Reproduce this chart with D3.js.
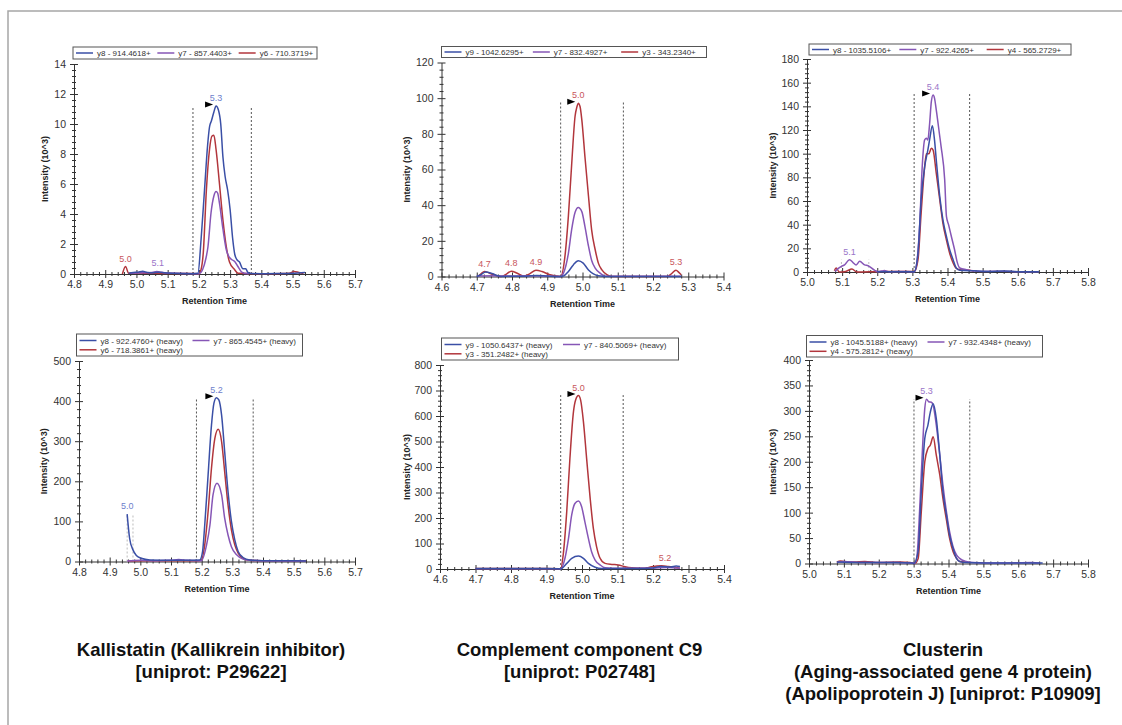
<!DOCTYPE html>
<html>
<head>
<meta charset="utf-8">
<script src="https://cdn.jsdelivr.net/npm/d3@7"></script>
<style>
  body { margin: 0; background: #fff; }
  svg { display: block; font-family: "Liberation Sans", Arial, sans-serif; }
</style>
</head>
<body>
<svg id="chart" width="1122" height="725"></svg>
<script>
// ---- DATA: [retention time, intensity (10^3)] ----
// Kallistatin, light
const kallLightY8 = [[4.975,0.05],[4.99,0.1],[5.005,0.12],[5.02,0.18],[5.035,0.1],[5.05,0.08],[5.07,0.12],[5.09,0.08],[5.12,0.05],[5.15,0.03],[5.18,0.02],[5.197,0.05],[5.207,2.3],[5.218,5.6],[5.228,8.6],[5.234,9.8],[5.24,10.2],[5.248,10.8],[5.255,11.2],[5.263,10.9],[5.27,10.0],[5.277,7.8],[5.284,6.5],[5.292,5.6],[5.3,4.3],[5.308,2.4],[5.315,1.3],[5.322,0.95],[5.33,0.8],[5.341,0.35],[5.35,0.35],[5.357,0.1],[5.37,0.03],[5.4,0.02],[5.45,0.03],[5.5,0.05],[5.54,0.1]];
const kallLightY7 = [[4.98,0.05],[5.02,0.08],[5.05,0.1],[5.065,0.17],[5.08,0.12],[5.1,0.06],[5.15,0.03],[5.2,0.02],[5.212,0.3],[5.222,1.0],[5.229,1.8],[5.239,4.1],[5.248,5.2],[5.255,5.5],[5.26,5.4],[5.266,4.7],[5.277,3.0],[5.288,1.6],[5.298,1.1],[5.306,0.95],[5.314,0.85],[5.325,0.5],[5.336,0.15],[5.345,0.05],[5.36,0.02]];
const kallLightY6 = [[4.955,0.0],[4.965,0.5],[4.975,0.05],[5.0,0.06],[5.05,0.05],[5.1,0.04],[5.15,0.03],[5.2,0.02],[5.207,0.3],[5.214,1.4],[5.224,5.6],[5.234,8.3],[5.242,9.2],[5.248,9.25],[5.255,8.3],[5.266,6.0],[5.277,3.6],[5.288,1.8],[5.298,0.8],[5.314,0.3],[5.325,0.05],[5.4,0.02],[5.47,0.03],[5.49,0.05],[5.505,0.17],[5.52,0.1],[5.535,0.03]];
const kallLightLegend = ["y8 - 914.4618+", "y7 - 857.4403+", "y6 - 710.3719+"];
const kallLightPeaks = [[5.255,11.2,"5.3",0,true],[4.965,0.5,"5.0",2,false],[5.068,0.17,"5.1",1,false]];
const kallLightBounds = [5.181, 5.368, 11.2];

// Complement C9, light
const c9LightY9 = [[4.7,0],[4.712,1.0],[4.725,2.5],[4.745,1.5],[4.76,0.4],[4.77,0],[4.8,0.2],[4.84,0.2],[4.87,0.6],[4.9,0.3],[4.93,0],[4.946,0.3],[4.96,2.8],[4.974,6.5],[4.988,8.8],[5.002,7.5],[5.017,3.7],[5.031,1.5],[5.045,0.4],[5.07,0],[5.15,0],[5.28,0]];
const c9LightY7 = [[4.7,0.3],[4.75,0.4],[4.8,0.3],[4.85,0.4],[4.9,0.3],[4.938,0],[4.946,1.9],[4.96,13],[4.969,26],[4.979,36],[4.988,38.7],[4.998,36.4],[5.007,28],[5.017,17],[5.026,9],[5.036,4.7],[5.05,1.9],[5.064,0.2],[5.15,0.1],[5.28,0.1]];
const c9LightY3 = [[4.704,0],[4.712,1.5],[4.722,2.8],[4.735,2.0],[4.755,0.6],[4.77,0],[4.785,1.5],[4.798,3.0],[4.815,1.8],[4.832,0.3],[4.85,1.5],[4.868,3.5],[4.885,2.8],[4.905,1.2],[4.925,0.3],[4.938,0],[4.95,11],[4.96,34],[4.969,62],[4.979,90],[4.984,95],[4.988,97.2],[4.993,95.3],[4.998,88],[5.007,67],[5.017,45],[5.026,26],[5.036,15],[5.045,7.5],[5.055,3.7],[5.069,1],[5.083,0],[5.15,0],[5.24,0],[5.252,1.5],[5.265,3.5],[5.274,2.2],[5.28,1.0]];
const c9LightLegend = ["y9 - 1042.6295+", "y7 - 832.4927+", "y3 - 343.2340+"];
const c9LightPeaks = [[4.988,97.2,"5.0",2,true],[4.722,2.8,"4.7",2,false],[4.798,3.0,"4.8",2,false],[4.868,3.5,"4.9",2,false],[5.265,3.5,"5.3",2,false]];
const c9LightBounds = [4.938, 5.116, 97.6];

// Clusterin, light
const cluLightY8 = [[5.2,0.3],[5.25,0.3],[5.3,0.3],[5.305,0],[5.316,16],[5.325,61],[5.335,89],[5.344,103],[5.349,111.6],[5.357,123.5],[5.363,111.6],[5.368,94.8],[5.378,63.8],[5.387,44],[5.397,30],[5.406,19],[5.416,10.4],[5.425,3.4],[5.435,1.5],[5.473,1],[5.52,0.5],[5.56,0.8],[5.6,0.3],[5.66,0.3]];
const cluLightY7 = [[5.08,0.5],[5.085,2],[5.098,4.8],[5.107,6],[5.121,10.4],[5.131,8],[5.14,6],[5.15,9],[5.164,6],[5.174,5.3],[5.193,1.4],[5.202,0.3],[5.212,0.8],[5.22,1.2],[5.235,0.3],[5.27,0.5],[5.3,0.3],[5.305,0.3],[5.311,4.8],[5.321,41],[5.328,89],[5.335,111.6],[5.34,113],[5.344,111.6],[5.349,125],[5.354,144],[5.359,149.6],[5.363,147],[5.368,137],[5.378,114.5],[5.382,105.5],[5.392,78],[5.397,47],[5.403,40],[5.411,30],[5.42,19],[5.427,9],[5.435,3.4],[5.454,2],[5.473,1],[5.5,0.5],[5.56,0.7],[5.6,0.3],[5.66,0.3]];
const cluLightY4 = [[5.078,1],[5.083,3.4],[5.092,0],[5.11,0.5],[5.128,2.5],[5.142,0],[5.2,0.3],[5.25,0.5],[5.3,0.5],[5.306,0.5],[5.316,10.4],[5.325,50],[5.335,89],[5.34,100],[5.347,100],[5.354,104.6],[5.359,103],[5.368,83.5],[5.378,61],[5.387,41],[5.397,27],[5.406,16],[5.416,7.6],[5.425,3],[5.435,2],[5.463,1.5],[5.475,0.5]];
const cluLightLegend = ["y8 - 1035.5106+", "y7 - 922.4265+", "y4 - 565.2729+"];
const cluLightPeaks = [[5.359,149.6,"5.4",1,true],[5.121,10.4,"5.1",1,false]];
const cluLightBounds = [5.305, 5.463, 150.4];
const cluLightSmallBounds = [5.098, 5.176, 10.4];

// Kallistatin, heavy
const kallHeavyY8 = [[4.957,118],[4.965,58],[4.976,29],[4.987,15],[5.003,8],[5.031,4],[5.1,3],[5.15,3],[5.194,4],[5.203,25],[5.21,91],[5.221,216],[5.232,340],[5.24,395],[5.248,408.6],[5.256,403],[5.265,365],[5.275,274],[5.286,174],[5.297,100],[5.308,54],[5.319,25],[5.335,10],[5.357,4],[5.4,2],[5.5,2],[5.54,1.5]];
const kallHeavyY7 = [[4.957,1],[5.0,3],[5.05,2],[5.1,3],[5.125,5],[5.15,3],[5.19,2],[5.199,2],[5.216,41.5],[5.227,91],[5.237,166],[5.25,195],[5.265,166],[5.275,108],[5.286,66],[5.297,37],[5.314,16.6],[5.335,6],[5.357,3],[5.4,2],[5.54,1]];
const kallHeavyY6 = [[4.96,1],[5.0,2],[5.1,2],[5.19,2],[5.199,3],[5.21,41.5],[5.221,124.6],[5.232,232.6],[5.243,307],[5.254,329.7],[5.265,299],[5.275,224],[5.286,141],[5.297,79],[5.308,41.5],[5.319,20.8],[5.335,8],[5.357,3],[5.4,2],[5.54,1]];
const kallHeavyLegend = ["y8 - 922.4760+ (heavy)", "y7 - 865.4545+ (heavy)", "y6 - 718.3861+ (heavy)"];
const kallHeavyPeaks = [[5.248,408.6,"5.2",0,true],[4.957,118,"5.0",0,false]];
const kallHeavyBounds = [5.183, 5.368, 408.6];
const kallHeavySmallBounds = [4.957, 4.976, 118];

// Complement C9, heavy
const c9HeavyY9 = [[4.7,2],[4.8,2],[4.9,2],[4.93,1],[4.94,0],[4.957,22],[4.971,42],[4.99,51],[5.004,42],[5.018,22],[5.037,7],[5.055,2],[5.15,2],[5.2,4],[5.22,10],[5.25,8],[5.265,12],[5.276,10]];
const c9HeavyY7 = [[4.7,1],[4.93,1],[4.94,0],[4.952,42],[4.962,120],[4.971,212],[4.98,257],[4.99,267],[4.999,244],[5.008,186],[5.018,120],[5.027,68],[5.037,35],[5.051,16],[5.065,5],[5.1,3],[5.2,4],[5.24,6],[5.276,3]];
const c9HeavyY3 = [[4.7,2],[4.8,2],[4.9,2],[4.935,1],[4.94,0],[4.947,55],[4.957,225],[4.966,434],[4.976,617],[4.982,663],[4.99,680],[4.996,663],[5.004,578],[5.013,434],[5.023,277],[5.032,159],[5.041,88],[5.051,42],[5.065,22],[5.084,18],[5.102,16],[5.121,9],[5.14,5],[5.177,3],[5.196,9],[5.224,13],[5.243,10],[5.262,7],[5.276,3]];
const c9HeavyLegend = ["y9 - 1050.6437+ (heavy)", "y7 - 840.5069+ (heavy)", "y3 - 351.2482+ (heavy)"];
const c9HeavyPeaks = [[4.99,680,"5.0",2,true],[5.234,13,"5.2",2,false]];
const c9HeavyBounds = [4.940, 5.116, 682];

// Clusterin, heavy
const cluHeavyY8 = [[5.08,3],[5.15,2],[5.25,2],[5.295,1],[5.301,0],[5.313,23.6],[5.322,141],[5.332,246],[5.341,272],[5.348,298],[5.356,314],[5.365,285],[5.375,213],[5.384,141],[5.394,95.5],[5.403,56],[5.413,30],[5.423,10],[5.432,4],[5.45,2],[5.55,1],[5.67,1]];
const cluHeavyY7 = [[5.08,2],[5.1,4],[5.15,2],[5.2,2],[5.25,2],[5.3,1],[5.303,0],[5.31,17],[5.317,102],[5.325,220],[5.332,305],[5.337,323],[5.343,318],[5.351,317],[5.356,311],[5.365,272],[5.375,213],[5.384,154],[5.394,102],[5.403,63],[5.413,33],[5.423,17],[5.432,10],[5.451,4],[5.47,2],[5.55,1],[5.64,2],[5.66,1]];
const cluHeavyY4 = [[5.08,3],[5.09,5],[5.1,4],[5.13,3],[5.16,4],[5.2,2],[5.26,3],[5.29,2],[5.303,0],[5.313,10],[5.322,102],[5.332,200],[5.341,226],[5.348,233],[5.356,249],[5.365,213],[5.375,174],[5.384,128],[5.394,86],[5.403,50],[5.413,23.6],[5.423,10],[5.432,4],[5.46,2]];
const cluHeavyLegend = ["y8 - 1045.5188+ (heavy)", "y7 - 932.4348+ (heavy)", "y4 - 575.2812+ (heavy)"];
const cluHeavyPeaks = [[5.337,323,"5.3",1,true]];
const cluHeavyBounds = [5.301, 5.461, 323];

const proteinTitles = [
    ["Kallistatin (Kallikrein inhibitor)", "[uniprot: P29622]"],
    ["Complement component C9", "[uniprot: P02748]"],
    ["Clusterin", "(Aging-associated gene 4 protein)", "(Apolipoprotein J) [uniprot: P10909]"]
];

const colors = ["#3a4fa6", "#8656b6", "#b2363c"];
const labelColors = ["#6d80cc", "#9a74c8", "#c8565c"];

// ---- LAYOUT ----
const panels = [
    { series: [kallLightY8, kallLightY7, kallLightY6], names: kallLightLegend, peaks: kallLightPeaks,
      bounds: kallLightBounds, small: null, xDom: [4.8, 5.7], yMax: 14, yStep: 2,
      px: [74, 355], py: [274, 64], yLabelX: 45, legend: { x: 73, y: 47, w: 244, h: 12, cols: 3 } },
    { series: [c9LightY9, c9LightY7, c9LightY3], names: c9LightLegend, peaks: c9LightPeaks,
      bounds: c9LightBounds, small: null, xDom: [4.6, 5.4], yMax: 120, yStep: 20,
      px: [441.5, 723.5], py: [276.5, 62.5], yLabelX: 407, legend: { x: 441.5, y: 46.5, w: 265, h: 11, cols: 3 } },
    { series: [cluLightY8, cluLightY7, cluLightY4], names: cluLightLegend, peaks: cluLightPeaks,
      bounds: cluLightBounds, small: cluLightSmallBounds, xDom: [5.0, 5.8], yMax: 180, yStep: 20,
      px: [807, 1088], py: [272, 59], yLabelX: 773, legend: { x: 809, y: 44, w: 262, h: 11, cols: 3 } },
    { series: [kallHeavyY8, kallHeavyY7, kallHeavyY6], names: kallHeavyLegend, peaks: kallHeavyPeaks,
      bounds: kallHeavyBounds, small: kallHeavySmallBounds, xDom: [4.8, 5.7], yMax: 500, yStep: 100,
      px: [79, 355], py: [561.5, 361], yLabelX: 44, legend: { x: 76.5, y: 334, w: 226, h: 22, cols: 2 } },
    { series: [c9HeavyY9, c9HeavyY7, c9HeavyY3], names: c9HeavyLegend, peaks: c9HeavyPeaks,
      bounds: c9HeavyBounds, small: null, xDom: [4.6, 5.4], yMax: 800, yStep: 100,
      px: [440, 724], py: [569, 365], yLabelX: 407, legend: { x: 441.5, y: 338, w: 237, h: 22, cols: 2 } },
    { series: [cluHeavyY8, cluHeavyY7, cluHeavyY4], names: cluHeavyLegend, peaks: cluHeavyPeaks,
      bounds: cluHeavyBounds, small: null, xDom: [5.0, 5.8], yMax: 400, yStep: 50,
      px: [809, 1088], py: [563.5, 360], yLabelX: 773, legend: { x: 806.5, y: 335.5, w: 236, h: 21.5, cols: 2 } }
];
const titleX = [211, 579.5, 943];

const svg = d3.select("#chart");

svg.append("rect")
    .attr("x", 8).attr("y", 11)
    .attr("width", 1140).attr("height", 740)
    .attr("fill", "none")
    .attr("stroke", "#a6a6a6")
    .attr("stroke-width", 1.5);

panels.forEach(p => {
    const g = svg.append("g");
    const x = d3.scaleLinear().domain(p.xDom).range(p.px);
    const y = d3.scaleLinear().domain([0, p.yMax]).range(p.py);

    const nx = Math.round((p.xDom[1] - p.xDom[0]) / 0.1);
    const xMajor = d3.range(nx + 1).map(i => p.xDom[0] + i * 0.1);
    const xMinor = d3.range(nx * 5 + 1).map(i => p.xDom[0] + i * 0.02).filter((v, i) => i % 5);
    const ny = Math.round(p.yMax / p.yStep);
    const yMajor = d3.range(ny + 1).map(i => i * p.yStep);
    const yMinor = d3.range(ny * 5 + 1).map(i => i * p.yStep / 5).filter((v, i) => i % 5);

    // minor ticks (cross the axis)
    const gxm = g.append("g").attr("transform", `translate(0,${p.py[0]})`).attr("color", "#333")
        .call(d3.axisBottom(x).tickValues(xMinor).tickSize(2).tickFormat(""));
    gxm.select(".domain").remove();
    gxm.selectAll(".tick line").attr("y1", -2);

    const gym = g.append("g").attr("transform", `translate(${p.px[0]},0)`).attr("color", "#333")
        .call(d3.axisLeft(y).tickValues(yMinor).tickSize(2).tickFormat(""));
    gym.select(".domain").remove();
    gym.selectAll(".tick line").attr("x1", 2);

    // major axes
    const gx = g.append("g").attr("transform", `translate(0,${p.py[0]})`).attr("color", "#333")
        .call(d3.axisBottom(x).tickValues(xMajor).tickFormat(d3.format(".1f"))
            .tickSize(4).tickSizeOuter(0).tickPadding(3));
    gx.selectAll(".tick line").attr("y1", -4);

    const gy = g.append("g").attr("transform", `translate(${p.px[0]},0)`).attr("color", "#333")
        .call(d3.axisLeft(y).tickValues(yMajor).tickFormat(d3.format("d"))
            .tickSize(4).tickSizeOuter(0).tickPadding(4));
    gy.selectAll(".tick line").attr("x1", 4);

    [gx, gy].forEach(a => a.attr("font-family", null).attr("font-size", 10.5));

    // axis titles
    g.append("text")
        .attr("x", (p.px[0] + p.px[1]) / 2)
        .attr("y", p.py[0] + 30)
        .attr("text-anchor", "middle")
        .attr("font-size", 9)
        .attr("font-weight", "bold")
        .attr("fill", "#222")
        .text("Retention Time");

    g.append("text")
        .attr("transform", `translate(${p.yLabelX},${(p.py[0] + p.py[1]) / 2}) rotate(-90)`)
        .attr("text-anchor", "middle")
        .attr("dy", "0.35em")
        .attr("font-size", 9)
        .attr("font-weight", "bold")
        .attr("fill", "#222")
        .text("Intensity (10^3)");

    // integration boundaries
    [p.bounds[0], p.bounds[1]].forEach(b => {
        g.append("line")
            .attr("x1", x(b)).attr("x2", x(b))
            .attr("y1", y(0)).attr("y2", y(p.bounds[2]))
            .attr("stroke", "#555")
            .attr("stroke-width", 1)
            .attr("stroke-dasharray", "2 2");
    });
    if (p.small) {
        [p.small[0], p.small[1]].forEach(b => {
            g.append("line")
                .attr("x1", x(b)).attr("x2", x(b))
                .attr("y1", y(0)).attr("y2", y(p.small[2]))
                .attr("stroke", "#bbb")
                .attr("stroke-width", 1)
                .attr("stroke-dasharray", "2 2");
        });
    }

    // traces
    const line = d3.line()
        .x(d => x(d[0]))
        .y(d => y(d[1]))
        .curve(d3.curveMonotoneX);

    [2, 1, 0].forEach(i => {
        g.append("path")
            .datum(p.series[i])
            .attr("fill", "none")
            .attr("stroke", colors[i])
            .attr("stroke-width", 1.5)
            .attr("stroke-linejoin", "round")
            .attr("d", line);
    });

    // peak labels
    p.peaks.forEach(pk => {
        const ax = x(pk[0]), ay = y(pk[1]);
        g.append("text")
            .attr("x", ax).attr("y", ay - 5)
            .attr("text-anchor", "middle")
            .attr("font-size", 9)
            .attr("fill", labelColors[pk[3]])
            .text(pk[2]);
        if (pk[4]) {
            const tx = ax - 3, ty = ay - 1.5;
            g.append("path")
                .attr("d", `M${tx},${ty}L${tx - 8},${ty - 3}L${tx - 8},${ty + 3}Z`)
                .attr("fill", "#000");
        }
    });

    // legend
    const L = p.legend;
    const lg = g.append("g");
    lg.append("rect")
        .attr("x", L.x).attr("y", L.y)
        .attr("width", L.w).attr("height", L.h)
        .attr("fill", "#fff")
        .attr("stroke", "#555")
        .attr("stroke-width", 1);
    p.names.forEach((nm, i) => {
        const col = i % L.cols, row = Math.floor(i / L.cols);
        const ix = L.x + 3 + col * (L.w / L.cols);
        const iy = L.cols === 3 ? L.y + L.h / 2 : L.y + 6.5 + row * 9.3;
        lg.append("line")
            .attr("x1", ix).attr("x2", ix + 17)
            .attr("y1", iy).attr("y2", iy)
            .attr("stroke", colors[i])
            .attr("stroke-width", 1.5);
        lg.append("text")
            .attr("x", ix + 21).attr("y", iy + 3)
            .attr("font-size", 8)
            .attr("fill", "#333")
            .text(nm);
    });
});

// protein titles
proteinTitles.forEach((lines, k) => {
    const t = svg.append("text")
        .attr("text-anchor", "middle")
        .attr("font-size", 18.5)
        .attr("font-weight", "bold")
        .attr("fill", "#111");
    lines.forEach((s, j) => {
        t.append("tspan")
            .attr("x", titleX[k])
            .attr("y", 656 + j * 22)
            .text(s);
    });
});
</script>
</body>
</html>
